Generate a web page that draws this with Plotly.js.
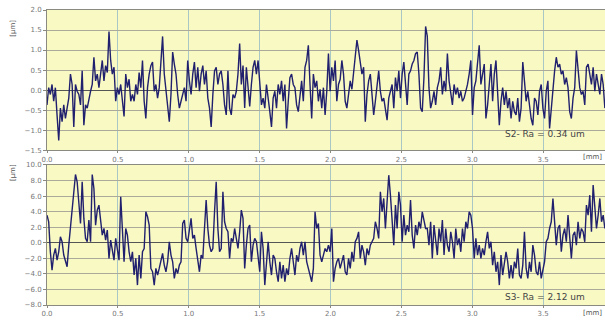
<!DOCTYPE html>
<html><head><meta charset="utf-8">
<script src="https://cdn.plot.ly/plotly-3.0.1.min.js"></script>
<style>html,body{margin:0;padding:0;background:#fff}#chart{width:605px;height:320px}</style>
</head><body><div id="chart"></div>
<script>
const sampleStepMm = 0.01182;
const xTickVals = [0, 0.5, 1.0, 1.5, 2.0, 2.5, 3.0, 3.5];
const s2Label = 'S2- Ra = 0.34 um';
const s3Label = 'S3- Ra = 2.12 um';
const s2Profile = [
-0.37,0.06,-0.11,0.14,-0.28,0.06,-0.62,-1.26,-0.45,-0.79,-0.37,-0.71,
-0.45,-0.20,0.40,0.14,-0.92,0.14,
-0.03,-0.11,-0.37,0.48,-0.88,-0.37,-0.45,-0.20,-0.03,0.14,0.82,0.23,0.40,0.06,0.40,0.74,0.23,0.61,0.44,1.46,0.74,0.40,0.57,-0.28,0.06,-0.11,0.14,-0.20,-0.66,0.40,0.06,0.27,-0.28,-0.11,-0.28,0.14,-0.11,0.44,0.06,0.74,-0.28,-0.71,0.06,0.40,0.61,0.70,-0.03,0.14,-0.20,0.06,0.82,1.34,0.40,-0.03,-0.45,-0.79,-0.11,0.95,0.65,0.40,-0.11,-0.45,-0.28,-0.11,0.06,-0.28,0.74,0.23,-0.11,0.40,0.70,0.06,0.57,-0.03,0.40,0.61,0.14,0.48,-0.20,-0.45,-0.92,-0.11,0.48,0.57,0.14,0.40,0.48,0.14,-0.37,-0.62,0.48,-0.45,-0.62,-0.11,
-0.20,-0.03,0.40,1.16,0.14,0.61,-0.45,0.57,0.06,-0.41,0.14,0.57,0.74,0.40,0.74,0.06,-0.37,-0.20,-0.45,0.14,-0.28,-0.54,-0.92,-0.20,-0.03,-0.45,0.14,-0.11,0.23,-0.28,0.14,-0.96,-0.28,0.31,0.40,0.14,0.06,-0.37,-0.54,-0.11,0.23,-0.28,0.57,0.74,1.12,0.14,-0.71,0.40,0.06,0.23,-0.28,0.02,-0.45,0.06,-0.62,-0.03,0.91,-0.03,0.57,0.23,0.74,-0.28,0.14,0.27,0.74,0.40,-0.28,-0.45,-0.11,0.23,0.02,0.48,0.74,1.25,0.99,0.65,0.40,0.57,-0.79,-0.11,0.23,0.40,-0.20,-0.62,-0.28,0.06,0.48,-0.03,-0.28,-0.20,-0.45,-0.75,-0.20,-0.03,0.14,-0.45,0.31,-0.03,0.48,-0.20,0.40,0.70,0.14,-0.37,0.40,0.48,0.65,0.74,0.91,0.95,0.40,-0.45,-0.54,
0.31,1.59,1.34,0.06,-0.45,-0.28,-0.03,-0.37,0.06,0.23,0.57,-0.11,0.23,-0.03,0.91,0.23,-0.11,-0.37,0.14,-0.11,0.06,-0.20,-0.03,-0.28,-0.20,-0.03,0.14,0.40,0.74,-0.62,0.06,0.23,0.74,1.12,0.14,0.40,0.65,-0.71,-0.37,0.14,0.65,-0.28,0.40,0.74,-0.03,-0.88,-0.28,0.06,-0.37,-0.03,-0.45,-0.20,-0.71,-0.28,-0.54,-0.62,-0.20,-0.79,-0.45,0.70,0.23,-0.28,-0.03,-0.45,-0.71,-0.88,-0.20,-0.28,-0.62,-0.03,0.14,-0.45,-0.71,-0.03,0.23,-0.96,-0.45,0.14,0.48,0.82,0.57,0.65,0.40,0.48,0.14,0.31,0.06,-0.54,-0.71,-0.20,0.06,0.99,0.40,0.06,-0.11,-0.03,-0.37,0.57,0.65,0.40,0.14,0.57,-0.03,0.40,0.14,-0.11,0.40,0.14,-0.45
];
const s3Profile = [
3.55,2.70,-1.16,-3.51,-1.58,-0.73,-2.23,-1.16,0.77,0.13,-1.58,-2.44,-3.08,-0.30,1.84,4.84,6.98,8.78,7.84,5.27,2.48,7.84,3.13,0.56,0.13,2.91,0.13,8.78,6.98,2.27,4.20,4.84,2.70,0.99,1.84,0.34,1.63,-2.01,0.34,-0.73,-2.23,0.56,-0.73,-2.23,5.91,1.84,-2.44,1.84,0.99,-1.16,-2.44,-1.16,-4.15,-2.01,-5.44,-1.58,-4.58,-1.16,-0.73,3.98,3.34,2.27,-3.30,-3.73,-5.44,-3.30,-4.15,-3.30,-2.44,-1.37,-2.87,-3.73,-2.44,0.13,-1.58,-2.44,-4.58,-3.30,-3.94,-2.87,-2.44,2.48,2.91,0.56,0.13,1.41,3.13,0.56,0.99,-0.73,-2.01,-3.73,-1.58,-2.01,1.84,5.48,1.84,-0.30,-1.16,-0.73,3.98,7.84,1.84,-1.16,-0.73,6.55,2.70,1.84,1.41,-2.01,0.56,0.13,1.84,0.56,
-0.73,1.41,4.20,3.13,-3.30,-0.30,1.84,2.27,-2.44,-0.30,0.56,0.13,-1.58,-3.73,1.41,-0.73,-5.44,-2.44,0.13,-2.44,-4.15,-1.58,-2.01,-3.73,-5.01,-2.44,-4.58,-2.87,-5.01,-3.30,-4.15,-2.01,-0.73,-2.44,-4.15,-1.58,-2.44,-0.73,0.13,-1.58,0.13,-2.44,-3.30,-4.15,-5.01,-3.30,3.98,1.84,2.48,-1.58,-2.44,-1.58,-0.73,-1.16,-0.30,-1.16,1.84,-5.01,-3.30,-2.44,-2.01,-3.30,-2.44,-1.58,-3.73,-4.15,-2.01,-3.30,-1.16,-2.44,0.13,0.56,1.41,-2.01,-0.30,-1.16,-2.87,-0.73,-1.58,-0.30,0.13,0.56,2.70,1.84,0.56,6.55,3.98,5.70,1.84,5.27,8.69,6.12,3.13,-0.30,4.84,1.84,6.55,4.84,0.13,3.55,0.99,2.27,1.41,5.48,0.99,-0.73,2.27,0.99,2.70,1.84,3.98,2.70,1.84,
1.84,-0.30,2.70,-2.01,2.27,0.56,-1.58,1.84,0.13,2.91,-1.58,1.84,-0.30,-1.16,1.41,0.13,-2.01,1.84,-0.30,0.56,-1.16,1.84,0.13,2.70,1.84,3.98,3.55,1.84,-2.01,0.56,-1.58,-0.30,-2.01,-0.73,-1.58,0.13,1.41,-0.73,0.13,-2.87,-1.16,-3.73,-2.44,-5.44,-1.58,-4.15,-2.44,-1.16,-2.44,-4.58,-2.87,-4.58,-2.44,-3.30,-0.73,-4.15,-4.58,-2.87,1.41,-3.30,-4.58,-2.44,-3.73,-0.30,-1.58,-3.73,-4.15,-2.44,-4.58,-3.30,-2.44,0.13,0.56,1.84,2.70,5.70,3.13,-0.30,1.84,2.27,-1.16,0.99,1.84,0.13,3.55,0.99,-2.01,0.99,1.41,-0.30,2.70,0.56,1.84,1.41,0.13,4.84,3.55,6.12,1.41,7.41,4.84,1.84,3.55,5.70,2.70,3.55,1.84,2.70,0.99
];

const xs2 = s2Profile.map((_, i) => i * sampleStepMm);
const xs3 = s3Profile.map((_, i) => i * sampleStepMm);
const lineStyle = {color: '#20206e', width: 1.4};
const tickFont = {family: 'DejaVu Sans', size: 7, color: '#777'};
const gridV = '#a9c7c4';
const gridH = '#aaa99a';
const frame = '#8a8a80';

const traces = [
  {x: xs2, y: s2Profile, type: 'scatter', mode: 'lines', line: lineStyle, xaxis: 'x', yaxis: 'y', hoverinfo: 'skip'},
  {x: xs3, y: s3Profile, type: 'scatter', mode: 'lines', line: lineStyle, xaxis: 'x2', yaxis: 'y2', hoverinfo: 'skip'}
];

function xAx(anchor) {
  return {anchor: anchor, domain: [0, 1], range: [0, 3.937], tickvals: xTickVals, tickformat: '.1f',
    showgrid: true, gridcolor: gridV, gridwidth: 1, zeroline: false, showline: true, mirror: true,
    linecolor: frame, linewidth: 1, ticks: 'outside', ticklen: 2, tickcolor: frame, tickfont: tickFont};
}
function yAx(anchor, dom, rng, dt) {
  return {anchor: anchor, domain: dom, range: rng, dtick: dt, tick0: 0, tickformat: '.1f',
    showgrid: true, gridcolor: gridH, gridwidth: 1, zeroline: true, zerolinecolor: '#555', zerolinewidth: 1,
    showline: true, mirror: true, linecolor: frame, linewidth: 1, ticks: 'outside', ticklen: 3,
    tickcolor: frame, tickfont: tickFont};
}

const layout = {
  width: 605, height: 320,
  margin: {l: 47, r: 0, t: 10, b: 15},
  paper_bgcolor: '#ffffff',
  plot_bgcolor: '#f9f9c4',
  showlegend: false,
  xaxis: xAx('y'),
  yaxis: yAx('x', [0.525, 1], [-1.5, 2.0], 0.5),
  xaxis2: xAx('y2'),
  yaxis2: yAx('x2', [0, 0.4746], [-8, 10], 2),
  annotations: [
    {xref: 'x', yref: 'y', x: 3.218, y: -1.09, xanchor: 'left', yanchor: 'middle', text: s2Label, showarrow: false,
     font: {family: 'DejaVu Sans', size: 9, color: '#444'}},
    {xref: 'x2', yref: 'y2', x: 3.218, y: -6.94, xanchor: 'left', yanchor: 'middle', text: s3Label, showarrow: false,
     font: {family: 'DejaVu Sans', size: 9, color: '#444'}},
    {xref: 'paper', yref: 'paper', x: -0.072, y: 0.975, textangle: -90, text: '[µm]', showarrow: false,
     font: {family: 'DejaVu Sans', size: 7, color: '#555'}},
    {xref: 'paper', yref: 'paper', x: -0.072, y: 0.45, textangle: -90, text: '[µm]', showarrow: false,
     font: {family: 'DejaVu Sans', size: 7, color: '#555'}},
    {xref: 'paper', yref: 'paper', x: 0.998, y: 0.502, xanchor: 'right', yanchor: 'middle', text: '[mm]', showarrow: false,
     font: {family: 'DejaVu Sans', size: 7, color: '#555'}},
    {xref: 'paper', yref: 'paper', x: 0.998, y: -0.028, xanchor: 'right', yanchor: 'middle', text: '[mm]', showarrow: false,
     font: {family: 'DejaVu Sans', size: 7, color: '#555'}}
  ]
};

Plotly.newPlot('chart', traces, layout, {displayModeBar: false, staticPlot: true});
</script>
</body></html>
